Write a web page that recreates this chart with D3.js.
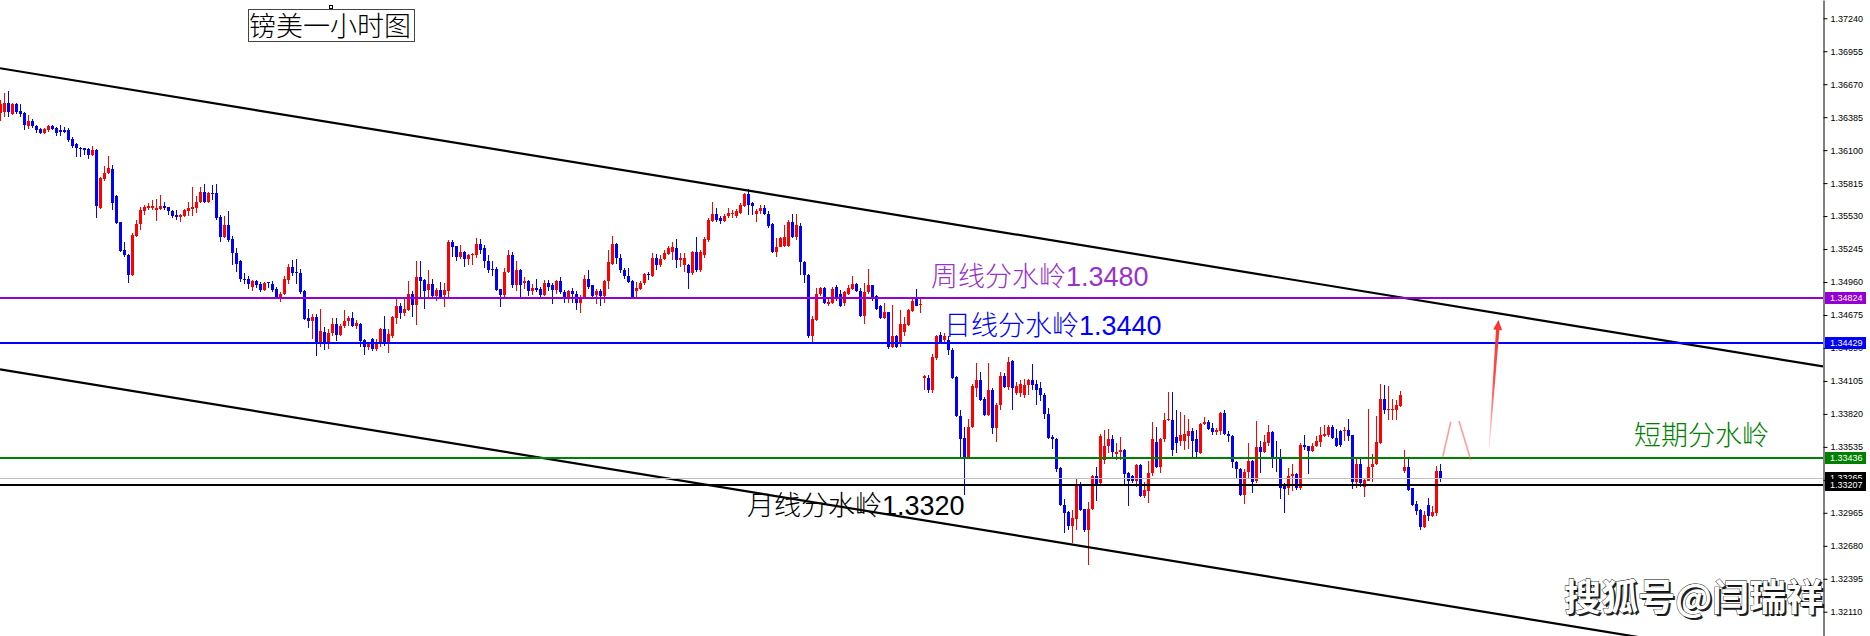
<!DOCTYPE html>
<html><head><meta charset="utf-8">
<script src="https://cdn.jsdelivr.net/npm/d3@7"></script>
<style>html,body{margin:0;padding:0;background:#fff;overflow:hidden}</style>
</head><body>
<svg id="c" width="1870" height="636"></svg>
<script>
// ---- DATA ----
// hourly GBP/USD candles: [open, high, low, close]
const ohlc = [
[1.3642,1.3653,1.3635,1.3650],[1.3643,1.3659,1.3639,1.3651],[1.3651,1.3661,1.3639,1.3643],[1.3641,1.3651,1.3640,1.3650],
[1.3650,1.3651,1.3641,1.3643],[1.3644,1.3650,1.3639,1.3641],[1.3642,1.3643,1.3627,1.3632],[1.3631,1.3640,1.3628,1.3635],
[1.3635,1.3637,1.3629,1.3631],[1.3631,1.3632,1.3625,1.3627],[1.3628,1.3629,1.3624,1.3625],[1.3625,1.3629,1.3624,1.3628],
[1.3627,1.3632,1.3626,1.3631],[1.3631,1.3632,1.3627,1.3628],[1.3629,1.3630,1.3622,1.3625],[1.3627,1.3632,1.3622,1.3626],
[1.3627,1.3630,1.3625,1.3626],[1.3627,1.3629,1.3617,1.3619],[1.3620,1.3621,1.3612,1.3614],[1.3615,1.3616,1.3604,1.3612],
[1.3612,1.3613,1.3604,1.3611],[1.3612,1.3612,1.3606,1.3610],[1.3611,1.3612,1.3602,1.3606],[1.3606,1.3614,1.3605,1.3610],
[1.3610,1.3611,1.3551,1.3562],[1.3560,1.3587,1.3559,1.3586],[1.3585,1.3596,1.3583,1.3590],[1.3590,1.3605,1.3589,1.3595],
[1.3594,1.3597,1.3558,1.3564],[1.3570,1.3571,1.3546,1.3547],[1.3548,1.3548,1.3522,1.3523],[1.3524,1.3531,1.3518,1.3519],
[1.3519,1.3520,1.3495,1.3502],[1.3502,1.3538,1.3501,1.3537],[1.3536,1.3550,1.3535,1.3546],[1.3546,1.3561,1.3541,1.3558],
[1.3557,1.3563,1.3554,1.3561],[1.3560,1.3564,1.3558,1.3562],[1.3560,1.3567,1.3558,1.3562],[1.3558,1.3568,1.3549,1.3560],
[1.3559,1.3571,1.3558,1.3562],[1.3562,1.3565,1.3558,1.3560],[1.3561,1.3561,1.3554,1.3557],[1.3557,1.3558,1.3551,1.3553],
[1.3554,1.3558,1.3550,1.3552],[1.3552,1.3555,1.3548,1.3554],[1.3553,1.3559,1.3552,1.3558],[1.3557,1.3565,1.3553,1.3560],
[1.3559,1.3578,1.3553,1.3561],[1.3560,1.3570,1.3556,1.3565],[1.3565,1.3578,1.3564,1.3574],[1.3574,1.3581,1.3564,1.3565],
[1.3565,1.3574,1.3564,1.3573],[1.3573,1.3580,1.3567,1.3572],[1.3573,1.3581,1.3550,1.3551],[1.3552,1.3554,1.3531,1.3535],
[1.3535,1.3553,1.3534,1.3545],[1.3545,1.3557,1.3531,1.3532],[1.3533,1.3536,1.3511,1.3521],[1.3521,1.3525,1.3505,1.3512],
[1.3514,1.3515,1.3496,1.3499],[1.3499,1.3504,1.3494,1.3498],[1.3499,1.3501,1.3490,1.3494],[1.3492,1.3498,1.3488,1.3497],
[1.3497,1.3498,1.3491,1.3493],[1.3494,1.3496,1.3487,1.3489],[1.3489,1.3496,1.3488,1.3495],[1.3496,1.3496,1.3491,1.3495],
[1.3494,1.3497,1.3487,1.3489],[1.3490,1.3492,1.3481,1.3483],[1.3483,1.3487,1.3479,1.3486],[1.3486,1.3501,1.3485,1.3499],
[1.3498,1.3512,1.3494,1.3509],[1.3509,1.3515,1.3501,1.3504],[1.3505,1.3516,1.3494,1.3504],[1.3504,1.3507,1.3486,1.3487],
[1.3488,1.3489,1.3463,1.3464],[1.3465,1.3473,1.3456,1.3462],[1.3462,1.3468,1.3447,1.3466],[1.3466,1.3468,1.3432,1.3443],
[1.3443,1.3473,1.3440,1.3454],[1.3453,1.3457,1.3437,1.3443],[1.3443,1.3455,1.3438,1.3452],[1.3452,1.3465,1.3449,1.3460],
[1.3460,1.3465,1.3445,1.3450],[1.3450,1.3460,1.3449,1.3458],[1.3458,1.3472,1.3456,1.3462],[1.3462,1.3467,1.3458,1.3465],
[1.3465,1.3470,1.3457,1.3458],[1.3458,1.3463,1.3455,1.3461],[1.3460,1.3461,1.3440,1.3445],[1.3446,1.3447,1.3433,1.3440],
[1.3440,1.3444,1.3437,1.3442],[1.3447,1.3448,1.3436,1.3438],[1.3438,1.3447,1.3436,1.3444],[1.3443,1.3456,1.3440,1.3455],
[1.3455,1.3467,1.3441,1.3442],[1.3443,1.3455,1.3435,1.3451],[1.3449,1.3467,1.3448,1.3466],[1.3465,1.3482,1.3460,1.3475],
[1.3475,1.3478,1.3464,1.3469],[1.3469,1.3482,1.3467,1.3473],[1.3472,1.3497,1.3471,1.3486],[1.3486,1.3488,1.3466,1.3476],
[1.3476,1.3514,1.3459,1.3500],[1.3500,1.3514,1.3482,1.3497],[1.3498,1.3499,1.3473,1.3488],[1.3489,1.3506,1.3482,1.3494],
[1.3494,1.3499,1.3483,1.3484],[1.3484,1.3491,1.3480,1.3489],[1.3489,1.3496,1.3482,1.3483],[1.3485,1.3495,1.3474,1.3489],
[1.3488,1.3532,1.3482,1.3531],[1.3531,1.3532,1.3518,1.3526],[1.3527,1.3527,1.3514,1.3518],[1.3518,1.3528,1.3516,1.3522],
[1.3522,1.3523,1.3509,1.3516],[1.3516,1.3520,1.3511,1.3519],[1.3519,1.3521,1.3511,1.3520],[1.3519,1.3534,1.3517,1.3529],
[1.3529,1.3533,1.3520,1.3524],[1.3525,1.3528,1.3508,1.3514],[1.3514,1.3519,1.3504,1.3506],[1.3507,1.3514,1.3501,1.3506],
[1.3507,1.3509,1.3488,1.3489],[1.3490,1.3490,1.3474,1.3485],[1.3485,1.3508,1.3482,1.3505],[1.3505,1.3524,1.3504,1.3519],
[1.3519,1.3522,1.3491,1.3493],[1.3493,1.3514,1.3488,1.3506],[1.3506,1.3507,1.3483,1.3493],[1.3495,1.3500,1.3490,1.3497],
[1.3497,1.3498,1.3484,1.3488],[1.3488,1.3494,1.3485,1.3491],[1.3491,1.3499,1.3487,1.3489],[1.3490,1.3492,1.3483,1.3485],
[1.3485,1.3498,1.3484,1.3495],[1.3495,1.3498,1.3488,1.3492],[1.3493,1.3495,1.3477,1.3489],[1.3489,1.3498,1.3486,1.3497],
[1.3497,1.3500,1.3486,1.3487],[1.3487,1.3489,1.3478,1.3482],[1.3481,1.3489,1.3478,1.3488],[1.3488,1.3491,1.3478,1.3486],
[1.3486,1.3488,1.3472,1.3478],[1.3478,1.3485,1.3469,1.3483],[1.3483,1.3502,1.3482,1.3499],[1.3499,1.3506,1.3490,1.3492],
[1.3493,1.3493,1.3483,1.3484],[1.3485,1.3490,1.3477,1.3488],[1.3488,1.3490,1.3475,1.3484],[1.3484,1.3498,1.3478,1.3497],
[1.3497,1.3524,1.3490,1.3513],[1.3512,1.3536,1.3511,1.3529],[1.3529,1.3530,1.3512,1.3517],[1.3517,1.3520,1.3504,1.3506],
[1.3506,1.3508,1.3499,1.3501],[1.3501,1.3508,1.3495,1.3496],[1.3497,1.3498,1.3483,1.3483],[1.3488,1.3496,1.3483,1.3491],
[1.3490,1.3497,1.3489,1.3495],[1.3495,1.3504,1.3493,1.3503],[1.3503,1.3505,1.3498,1.3502],[1.3501,1.3521,1.3500,1.3517],
[1.3517,1.3520,1.3506,1.3511],[1.3511,1.3519,1.3509,1.3516],[1.3516,1.3524,1.3515,1.3521],[1.3520,1.3527,1.3519,1.3525],
[1.3522,1.3531,1.3515,1.3526],[1.3525,1.3533,1.3508,1.3515],[1.3515,1.3521,1.3509,1.3517],[1.3511,1.3521,1.3505,1.3517],
[1.3511,1.3512,1.3490,1.3504],[1.3504,1.3523,1.3502,1.3522],[1.3522,1.3535,1.3505,1.3506],[1.3506,1.3524,1.3505,1.3522],
[1.3519,1.3535,1.3517,1.3533],[1.3532,1.3551,1.3531,1.3550],[1.3549,1.3565,1.3548,1.3555],[1.3555,1.3560,1.3548,1.3550],
[1.3551,1.3553,1.3546,1.3549],[1.3549,1.3555,1.3548,1.3553],[1.3553,1.3560,1.3551,1.3556],[1.3555,1.3558,1.3551,1.3556],
[1.3553,1.3559,1.3551,1.3557],[1.3556,1.3564,1.3555,1.3563],[1.3562,1.3573,1.3561,1.3572],[1.3572,1.3576,1.3554,1.3563],
[1.3564,1.3565,1.3554,1.3562],[1.3555,1.3559,1.3548,1.3557],[1.3557,1.3563,1.3555,1.3560],[1.3560,1.3563,1.3554,1.3555],
[1.3555,1.3557,1.3543,1.3544],[1.3546,1.3547,1.3521,1.3522],[1.3522,1.3534,1.3518,1.3526],[1.3526,1.3535,1.3526,1.3534],
[1.3527,1.3545,1.3526,1.3535],[1.3527,1.3550,1.3526,1.3548],[1.3548,1.3555,1.3534,1.3535],[1.3535,1.3555,1.3532,1.3545],
[1.3544,1.3547,1.3502,1.3513],[1.3513,1.3514,1.3495,1.3502],[1.3502,1.3503,1.3448,1.3449],[1.3449,1.3467,1.3443,1.3464],
[1.3463,1.3491,1.3462,1.3486],[1.3486,1.3492,1.3484,1.3491],[1.3491,1.3492,1.3477,1.3478],[1.3477,1.3482,1.3475,1.3479],
[1.3478,1.3492,1.3477,1.3490],[1.3492,1.3493,1.3480,1.3482],[1.3486,1.3489,1.3474,1.3475],[1.3478,1.3488,1.3475,1.3487],
[1.3486,1.3493,1.3485,1.3491],[1.3490,1.3501,1.3489,1.3494],[1.3494,1.3495,1.3487,1.3488],[1.3488,1.3491,1.3466,1.3467],
[1.3467,1.3495,1.3460,1.3487],[1.3487,1.3507,1.3486,1.3493],[1.3493,1.3493,1.3480,1.3481],[1.3484,1.3485,1.3472,1.3473],
[1.3475,1.3476,1.3464,1.3465],[1.3465,1.3478,1.3464,1.3470],[1.3470,1.3470,1.3438,1.3440],[1.3440,1.3476,1.3439,1.3449],
[1.3449,1.3450,1.3439,1.3440],[1.3442,1.3472,1.3440,1.3460],[1.3453,1.3466,1.3449,1.3460],[1.3459,1.3473,1.3458,1.3472],
[1.3471,1.3481,1.3470,1.3480],[1.3481,1.3490,1.3475,1.3475],[1.3476,1.3482,1.3469,1.3477],[1.3413,1.3416,1.3403,1.3415],
[1.3413,1.3416,1.3400,1.3403],[1.3403,1.3434,1.3400,1.3431],[1.3430,1.3450,1.3429,1.3449],[1.3450,1.3453,1.3442,1.3443],
[1.3446,1.3452,1.3443,1.3449],[1.3446,1.3449,1.3433,1.3437],[1.3437,1.3439,1.3412,1.3413],[1.3414,1.3415,1.3379,1.3380],
[1.3380,1.3385,1.3344,1.3360],[1.3361,1.3371,1.3312,1.3344],[1.3344,1.3378,1.3343,1.3371],[1.3371,1.3408,1.3370,1.3406],
[1.3404,1.3426,1.3397,1.3411],[1.3411,1.3418,1.3393,1.3394],[1.3395,1.3397,1.3380,1.3381],[1.3381,1.3426,1.3380,1.3403],
[1.3403,1.3404,1.3365,1.3370],[1.3370,1.3391,1.3358,1.3390],[1.3390,1.3418,1.3385,1.3415],[1.3415,1.3417,1.3404,1.3405],
[1.3405,1.3431,1.3403,1.3427],[1.3428,1.3429,1.3385,1.3404],[1.3400,1.3410,1.3398,1.3406],[1.3400,1.3411,1.3397,1.3408],
[1.3398,1.3412,1.3396,1.3407],[1.3407,1.3412,1.3398,1.3411],[1.3411,1.3425,1.3403,1.3407],[1.3408,1.3411,1.3390,1.3403],
[1.3404,1.3410,1.3393,1.3398],[1.3398,1.3400,1.3378,1.3382],[1.3382,1.3387,1.3360,1.3361],[1.3362,1.3364,1.3352,1.3360],
[1.3360,1.3361,1.3332,1.3334],[1.3335,1.3336,1.3302,1.3303],[1.3303,1.3308,1.3279,1.3296],[1.3297,1.3298,1.3282,1.3285],
[1.3285,1.3299,1.3270,1.3292],[1.3291,1.3326,1.3282,1.3321],[1.3321,1.3323,1.3298,1.3299],[1.3300,1.3300,1.3280,1.3282],
[1.3282,1.3306,1.3251,1.3300],[1.3300,1.3329,1.3299,1.3328],[1.3328,1.3336,1.3307,1.3321],[1.3322,1.3365,1.3321,1.3363],
[1.3342,1.3368,1.3339,1.3354],[1.3354,1.3369,1.3348,1.3360],[1.3360,1.3364,1.3345,1.3349],[1.3347,1.3357,1.3342,1.3349],
[1.3349,1.3362,1.3342,1.3351],[1.3351,1.3352,1.3321,1.3330],[1.3331,1.3332,1.3302,1.3324],[1.3328,1.3329,1.3322,1.3324],
[1.3324,1.3339,1.3319,1.3338],[1.3338,1.3339,1.3310,1.3311],[1.3311,1.3323,1.3309,1.3316],[1.3315,1.3341,1.3305,1.3331],
[1.3331,1.3375,1.3328,1.3360],[1.3358,1.3371,1.3335,1.3336],[1.3336,1.3361,1.3331,1.3360],[1.3360,1.3383,1.3358,1.3377],
[1.3377,1.3401,1.3376,1.3378],[1.3377,1.3401,1.3346,1.3351],[1.3362,1.3385,1.3348,1.3357],[1.3359,1.3384,1.3354,1.3364],
[1.3359,1.3381,1.3351,1.3365],[1.3363,1.3378,1.3352,1.3367],[1.3367,1.3370,1.3345,1.3359],[1.3360,1.3368,1.3345,1.3349],
[1.3348,1.3374,1.3347,1.3373],[1.3373,1.3379,1.3372,1.3375],[1.3375,1.3377,1.3368,1.3369],[1.3370,1.3374,1.3364,1.3366],
[1.3366,1.3370,1.3364,1.3368],[1.3367,1.3384,1.3364,1.3383],[1.3383,1.3385,1.3364,1.3365],[1.3365,1.3367,1.3358,1.3363],
[1.3363,1.3364,1.3335,1.3340],[1.3340,1.3341,1.3326,1.3334],[1.3334,1.3335,1.3311,1.3312],[1.3312,1.3334,1.3304,1.3332],
[1.3332,1.3357,1.3326,1.3341],[1.3341,1.3342,1.3314,1.3323],[1.3324,1.3376,1.3322,1.3353],[1.3353,1.3359,1.3331,1.3349],
[1.3349,1.3364,1.3348,1.3358],[1.3357,1.3372,1.3354,1.3366],[1.3366,1.3367,1.3335,1.3344],[1.3345,1.3359,1.3332,1.3343],
[1.3343,1.3352,1.3308,1.3318],[1.3321,1.3322,1.3296,1.3317],[1.3318,1.3335,1.3312,1.3328],[1.3328,1.3339,1.3315,1.3330],
[1.3330,1.3331,1.3316,1.3318],[1.3318,1.3357,1.3316,1.3355],[1.3355,1.3364,1.3351,1.3353],[1.3354,1.3354,1.3330,1.3350],
[1.3350,1.3357,1.3349,1.3354],[1.3354,1.3363,1.3353,1.3359],[1.3358,1.3371,1.3353,1.3364],[1.3363,1.3372,1.3362,1.3365],
[1.3364,1.3372,1.3362,1.3371],[1.3371,1.3372,1.3360,1.3361],[1.3361,1.3369,1.3353,1.3354],[1.3367,1.3368,1.3353,1.3355],
[1.3367,1.3371,1.3359,1.3368],[1.3368,1.3378,1.3359,1.3363],[1.3364,1.3364,1.3317,1.3323],[1.3323,1.3345,1.3318,1.3339],
[1.3339,1.3345,1.3319,1.3322],[1.3319,1.3326,1.3310,1.3325],[1.3324,1.3386,1.3324,1.3336],[1.3336,1.3347,1.3323,1.3339],
[1.3339,1.3380,1.3338,1.3358],[1.3357,1.3408,1.3356,1.3395],[1.3395,1.3407,1.3382,1.3385],[1.3385,1.3406,1.3377,1.3386],
[1.3386,1.3395,1.3377,1.33863],[1.3385,1.3394,1.3377,1.3390],[1.3389,1.3402,1.3388,1.3398],[1.3333,1.3351,1.3331,1.3336],
[1.3336,1.3343,1.3315,1.3316],[1.3318,1.3318,1.3302,1.3303],[1.3304,1.3307,1.3295,1.3298],[1.3299,1.3300,1.3282,1.3284],
[1.3284,1.3298,1.3283,1.3295],[1.3303,1.3309,1.3289,1.3294],[1.3294,1.3302,1.3293,1.3297],[1.3296,1.3337,1.3294,1.3333],
[1.3333,1.3339,1.3323,1.3326]
];

const tickValues = [1.37240,1.36955,1.36670,1.36385,1.36100,1.35815,1.35530,1.35245,1.34960,1.34675,
                    1.34390,1.34105,1.33820,1.33535,1.33250,1.32965,1.32680,1.32395,1.32110];
const levelValues = [1.34824, 1.34429, 1.33436, 1.33207];
const levelColors = ["#9400D3", "#0000FF", "#008000", "#000000"];
const bidValue = 1.33265;
// channel lines: [barIndex, price] anchor pairs
const channelUpper = [[0, 1.36808], [455.75, 1.34230]];
const channelLower = [[0, 1.34205], [455.75, 1.31630]];
// hand-drawn red annotation strokes: [barIndex, price]
const zigzagStrokes = [[[360.7, 1.33450], [362.7, 1.33752]], [[364.75, 1.33758], [367.7, 1.33421]]];
const arrowStroke = [[372.3, 1.33534], [374.6, 1.34632]];
const titleText = "镑美一小时图";
const labelTexts = [
  {cjk: "周线分水岭", num: "1.3480", color: "#9932CC", x: 931, y: 286},
  {cjk: "日线分水岭", num: "1.3440", color: "#0000FF", x: 944, y: 335},
  {cjk: "月线分水岭", num: "1.3320", color: "#000000", x: 747, y: 515},
  {cjk: "短期分水岭", num: "",       color: "#008000", x: 1634, y: 445}
];
const watermark = "搜狐号@闫瑞祥";

// ---- CHART ----
const W = 1870, H = 636, axisX = 1823;
const svg = d3.select("#c");
svg.append("rect").attr("width", W).attr("height", H).attr("fill", "#fff");

const x = d3.scaleLinear().domain([0, 455.75]).range([0, axisX]);
const y = d3.scaleLinear().domain([1.31900, 1.37398]).range([H, 0]);

svg.append("defs").append("clipPath").attr("id", "plot")
  .append("rect").attr("x", 0).attr("y", 0).attr("width", axisX).attr("height", H);

const plot = svg.append("g").attr("clip-path", "url(#plot)");

// candles
const up = "#FF0000", dn = "#0000FF";
const cg = plot.append("g").attr("shape-rendering", "crispEdges");
const cs = cg.selectAll("g").data(ohlc).join("g");
cs.append("rect")
  .attr("x", (d, i) => Math.round(x(i)))
  .attr("width", 1)
  .attr("y", d => Math.round(y(Math.max(d[1], d[0], d[3]))))
  .attr("height", d => Math.max(1, Math.round(y(Math.min(d[2], d[0], d[3]))) - Math.round(y(Math.max(d[1], d[0], d[3])))))
  .attr("fill", d => d[3] >= d[0] ? up : dn);
cs.append("rect")
  .attr("x", (d, i) => Math.round(x(i)) - 1)
  .attr("width", 3)
  .attr("y", d => Math.round(y(Math.max(d[0], d[3]))))
  .attr("height", d => Math.max(1, Math.round(y(Math.min(d[0], d[3]))) - Math.round(y(Math.max(d[0], d[3])))))
  .attr("fill", d => d[3] >= d[0] ? up : dn);

// channel lines
const line = d3.line().x(d => x(d[0])).y(d => y(d[1]));
[channelUpper, channelLower].forEach(c => {
  plot.append("path").attr("d", line(c)).attr("stroke", "#000").attr("stroke-width", 2.2).attr("fill", "none");
});

// horizontal levels
plot.append("line").attr("x1", 0).attr("x2", axisX)
  .attr("y1", Math.round(y(bidValue)) + 0.5).attr("y2", Math.round(y(bidValue)) + 0.5)
  .attr("stroke", "#C0C0C0").attr("stroke-width", 1);
levelValues.forEach((v, k) => {
  plot.append("line").attr("x1", 0).attr("x2", axisX)
    .attr("y1", Math.round(y(v))).attr("y2", Math.round(y(v)))
    .attr("stroke", levelColors[k]).attr("stroke-width", 2.2);
});

// red annotation strokes
zigzagStrokes.forEach(s => {
  plot.append("path").attr("d", line(s)).attr("stroke", "#ff4d4d").attr("stroke-opacity", 0.55)
    .attr("stroke-width", 1.6).attr("fill", "none");
});
{
  const b = [x(arrowStroke[0][0]), y(arrowStroke[0][1])];
  const t = [x(arrowStroke[1][0]), y(arrowStroke[1][1])];
  const dx = t[0] - b[0], dy = t[1] - b[1], L = Math.hypot(dx, dy);
  const ux = dx / L, uy = dy / L, px = -uy, py = ux;
  const headLen = 10, headW = 4.5, shaftTop = 1.7, shaftBot = 0.4;
  const hb = [t[0] - ux * headLen, t[1] - uy * headLen];
  const pts = [
    [b[0] + px * shaftBot, b[1] + py * shaftBot],
    [hb[0] + px * shaftTop, hb[1] + py * shaftTop],
    [hb[0] + px * headW, hb[1] + py * headW],
    t,
    [hb[0] - px * headW, hb[1] - py * headW],
    [hb[0] - px * shaftTop, hb[1] - py * shaftTop],
    [b[0] - px * shaftBot, b[1] - py * shaftBot]
  ];
  const grad = svg.select("defs").append("linearGradient").attr("id", "ag")
    .attr("gradientUnits", "userSpaceOnUse")
    .attr("x1", b[0]).attr("y1", b[1]).attr("x2", t[0]).attr("y2", t[1]);
  grad.append("stop").attr("offset", "0").attr("stop-color", "#ff3030").attr("stop-opacity", 0.15);
  grad.append("stop").attr("offset", "0.5").attr("stop-color", "#ff3030").attr("stop-opacity", 0.85);
  grad.append("stop").attr("offset", "1").attr("stop-color", "#ff3030").attr("stop-opacity", 1);
  plot.append("path").attr("d", "M" + pts.map(p => p.join(",")).join("L") + "Z").attr("fill", "url(#ag)");
}

// annotation texts
const cjkFont = "'Noto Sans CJK SC', sans-serif";
labelTexts.forEach(l => {
  const t = svg.append("text").attr("x", l.x).attr("y", l.y).attr("fill", l.color)
    .style("font-size", "27px").style("font-weight", 300);
  t.append("tspan").style("font-family", cjkFont).text(l.cjk);
  if (l.num) t.append("tspan").style("font-family", "'Liberation Sans', Arial, sans-serif").style("font-weight", 400).text(l.num);
});

// title box
svg.append("rect").attr("x", 248.5).attr("y", 9.5).attr("width", 166).attr("height", 32)
  .attr("fill", "#fff").attr("stroke", "#444").attr("stroke-width", 1);
svg.append("rect").attr("x", 329.5).attr("y", 5.5).attr("width", 3).attr("height", 3)
  .attr("fill", "#fff").attr("stroke", "#000").attr("stroke-width", 1);
svg.append("text").attr("x", 249).attr("y", 36).attr("fill", "#000")
  .style("font-family", cjkFont).style("font-size", "27px").style("font-weight", 300).text(titleText);

// watermark
svg.append("text").attr("x", 1566).attr("y", 613).attr("fill", "#222")
  .style("font-family", cjkFont).style("font-size", "37px").style("font-weight", 700).text(watermark);
svg.append("text").attr("x", 1564).attr("y", 611).attr("fill", "#fff")
  .attr("stroke", "#000").attr("stroke-width", 0.8).attr("paint-order", "stroke")
  .style("font-family", cjkFont).style("font-size", "37px").style("font-weight", 700).text(watermark);

// right price axis
const axis = d3.axisRight(y).tickValues(tickValues).tickSize(4).tickSizeOuter(0).tickPadding(3)
  .tickFormat(d3.format(".5f"));
const ag = svg.append("g").attr("transform", `translate(${axisX + 0.5},0)`).call(axis);
ag.select(".domain").attr("stroke", "#000");
ag.selectAll(".tick line").attr("stroke", "#000");
ag.selectAll(".tick text").attr("fill", "#000")
  .style("font-family", "'Liberation Sans', Arial, sans-serif").style("font-size", "9px");

// price tags
const tags = [[bidValue, "#000000"]].concat(levelValues.map((v, k) => [v, levelColors[k]]));
tags.sort((a, b) => b[0] - a[0]);
// draw bid first, then the black level tag on top of it
const order = [0, 1, 2, 3, 4].map(k => tags[k]);
order.forEach(([v, c]) => {
  const yy = Math.round(y(v));
  svg.append("rect").attr("x", axisX + 2).attr("y", yy - 6).attr("width", 41).attr("height", 12)
    .attr("fill", c).attr("shape-rendering", "crispEdges");
  svg.append("text").attr("x", axisX + 7).attr("y", yy).attr("dy", "0.33em").attr("fill", "#fff")
    .style("font-family", "'Liberation Sans', Arial, sans-serif").style("font-size", "9px")
    .text(d3.format(".5f")(v));
});
</script>
</body></html>
